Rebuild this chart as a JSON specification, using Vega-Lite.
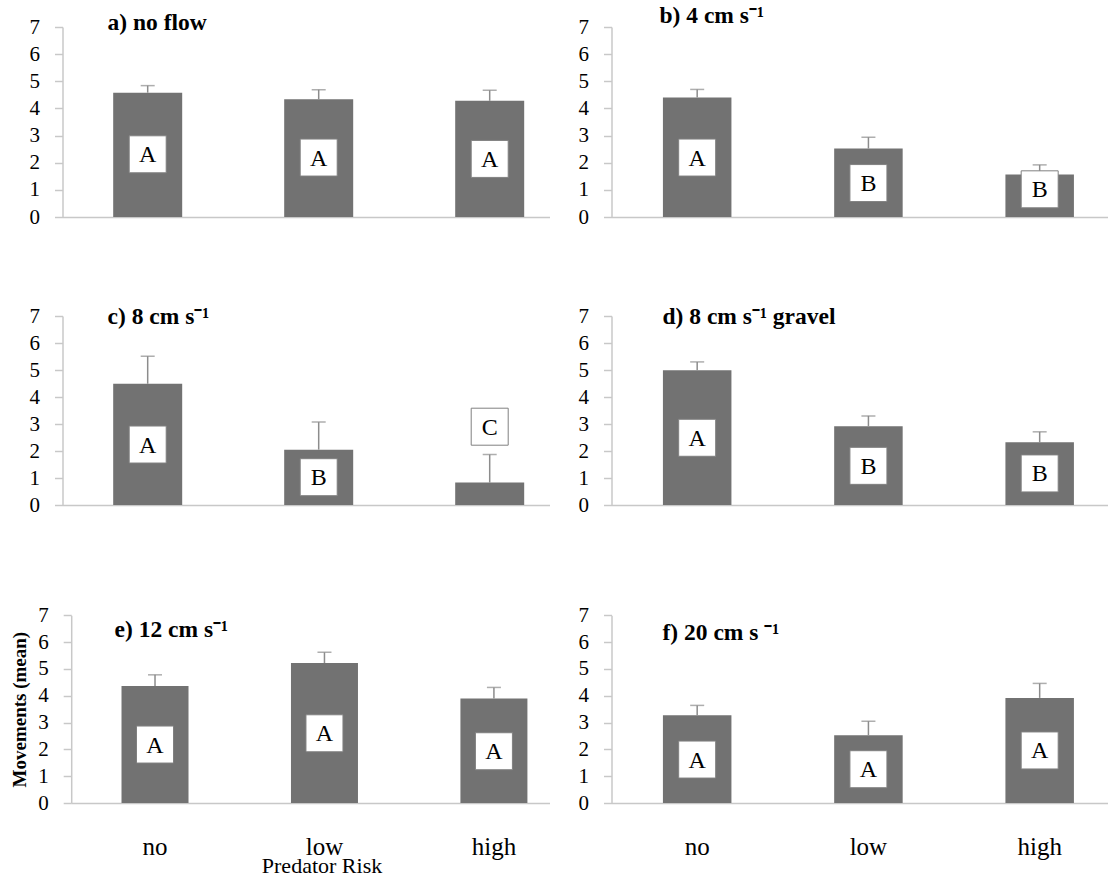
{
  "$schema": "https://vega.github.io/schema/vega-lite/v6.json",
  "background": "white",
  "padding": {"left": 10.5, "top": 4, "right": 0, "bottom": 0},
  "datasets": {
    "movements": [
      {"panel": "a", "risk": "no", "mean": 4.58, "upper": 4.84, "letter": "A", "letter_y": 2.31},
      {"panel": "a", "risk": "low", "mean": 4.34, "upper": 4.69, "letter": "A", "letter_y": 2.19},
      {"panel": "a", "risk": "high", "mean": 4.28, "upper": 4.67, "letter": "A", "letter_y": 2.14},
      {"panel": "b", "risk": "no", "mean": 4.40, "upper": 4.70, "letter": "A", "letter_y": 2.19},
      {"panel": "b", "risk": "low", "mean": 2.52, "upper": 2.94, "letter": "B", "letter_y": 1.25},
      {"panel": "b", "risk": "high", "mean": 1.57, "upper": 1.92, "letter": "B", "letter_y": 1.02},
      {"panel": "c", "risk": "no", "mean": 4.49, "upper": 5.51, "letter": "A", "letter_y": 2.24},
      {"panel": "c", "risk": "low", "mean": 2.05, "upper": 3.07, "letter": "B", "letter_y": 1.03},
      {"panel": "c", "risk": "high", "mean": 0.83, "upper": 1.87, "letter": "C", "letter_y": 2.90},
      {"panel": "d", "risk": "no", "mean": 4.99, "upper": 5.30, "letter": "A", "letter_y": 2.49},
      {"panel": "d", "risk": "low", "mean": 2.92, "upper": 3.30, "letter": "B", "letter_y": 1.45},
      {"panel": "d", "risk": "high", "mean": 2.32, "upper": 2.71, "letter": "B", "letter_y": 1.17},
      {"panel": "e", "risk": "no", "mean": 4.36, "upper": 4.78, "letter": "A", "letter_y": 2.18},
      {"panel": "e", "risk": "low", "mean": 5.22, "upper": 5.62, "letter": "A", "letter_y": 2.60},
      {"panel": "e", "risk": "high", "mean": 3.90, "upper": 4.31, "letter": "A", "letter_y": 1.93},
      {"panel": "f", "risk": "no", "mean": 3.27, "upper": 3.64, "letter": "A", "letter_y": 1.62},
      {"panel": "f", "risk": "low", "mean": 2.53, "upper": 3.05, "letter": "A", "letter_y": 1.26},
      {"panel": "f", "risk": "high", "mean": 3.92, "upper": 4.46, "letter": "A", "letter_y": 1.96}
    ]
  },
  "columns": 2,
  "bounds": "flush",
  "align": "each",
  "spacing": {"row": 99, "column": 62},
  "concat": [
    {
      "width": 487, "height": 190,
      "data": {"name": "movements"},
      "transform": [{"filter": "datum.panel == 'a'"}],
      "title": {"text": "a) no flow", "anchor": "start", "frame": "group", "offset": 0, "dx": 45, "dy": 30, "baseline": "middle", "font": "Liberation Serif", "fontSize": 23.5, "fontWeight": "bold", "color": "black"},
      "resolve": {"axis": {"y": "independent"}},
      "encoding": {
        "x": {"field": "risk", "type": "nominal", "scale": {"domain": ["no", "low", "high"], "paddingInner": 0.5965, "paddingOuter": 0.2222, "align": 0.667}, "axis": {"labels": false, "ticks": false, "title": null, "domainColor": "#c8c8c8", "domainWidth": 1.5}}
      },
      "layer": [
        {"mark": {"type": "bar", "color": "#727272"}, "encoding": {"y": {"field": "mean", "type": "quantitative", "scale": {"domain": [0, 7], "nice": false}, "axis": {"values": [0, 1, 2, 3, 4, 5, 6, 7], "labelFont": "Liberation Serif", "labelFontSize": 21, "title": null}}}},
        {"mark": {"type": "rule", "color": "#8c8c8c", "strokeWidth": 1.5}, "encoding": {"y": {"field": "mean", "type": "quantitative", "axis": null}, "y2": {"field": "upper"}}},
        {"mark": {"type": "tick", "color": "#8c8c8c", "thickness": 1.5, "size": 14}, "encoding": {"y": {"field": "upper", "type": "quantitative", "axis": null}}},
        {"mark": {"type": "point", "shape": "square", "size": 1369, "filled": true, "fill": "white", "stroke": "#808080", "strokeWidth": 1, "opacity": 1}, "encoding": {"y": {"field": "letter_y", "type": "quantitative", "axis": null}}},
        {"mark": {"type": "text", "font": "Liberation Serif", "fontSize": 24, "baseline": "middle", "dy": 1, "color": "black"}, "encoding": {"y": {"field": "letter_y", "type": "quantitative", "axis": null}, "text": {"field": "letter"}}}
      ]
    },
    {
      "width": 496, "height": 190,
      "data": {"name": "movements"},
      "transform": [{"filter": "datum.panel == 'b'"}],
      "title": {"text": "b) 4 cm s⁻¹", "anchor": "start", "frame": "group", "offset": 0, "dx": 48, "dy": 23.5, "baseline": "middle", "font": "Liberation Serif", "fontSize": 23.5, "fontWeight": "bold", "color": "black"},
      "resolve": {"axis": {"y": "independent"}},
      "encoding": {
        "x": {"field": "risk", "type": "nominal", "scale": {"domain": ["no", "low", "high"], "paddingInner": 0.6, "paddingOuter": 0.2482, "align": 0.605}, "axis": {"labels": false, "ticks": false, "title": null, "domainColor": "#c8c8c8", "domainWidth": 1.5}}
      },
      "layer": [
        {"mark": {"type": "bar", "color": "#727272"}, "encoding": {"y": {"field": "mean", "type": "quantitative", "scale": {"domain": [0, 7], "nice": false}, "axis": {"values": [0, 1, 2, 3, 4, 5, 6, 7], "labelFont": "Liberation Serif", "labelFontSize": 21, "title": null}}}},
        {"mark": {"type": "rule", "color": "#8c8c8c", "strokeWidth": 1.5}, "encoding": {"y": {"field": "mean", "type": "quantitative", "axis": null}, "y2": {"field": "upper"}}},
        {"mark": {"type": "tick", "color": "#8c8c8c", "thickness": 1.5, "size": 14}, "encoding": {"y": {"field": "upper", "type": "quantitative", "axis": null}}},
        {"mark": {"type": "point", "shape": "square", "size": 1369, "filled": true, "fill": "white", "stroke": "#808080", "strokeWidth": 1, "opacity": 1}, "encoding": {"y": {"field": "letter_y", "type": "quantitative", "axis": null}}},
        {"mark": {"type": "text", "font": "Liberation Serif", "fontSize": 24, "baseline": "middle", "dy": 1, "color": "black"}, "encoding": {"y": {"field": "letter_y", "type": "quantitative", "axis": null}, "text": {"field": "letter"}}}
      ]
    },
    {
      "width": 487, "height": 189,
      "data": {"name": "movements"},
      "transform": [{"filter": "datum.panel == 'c'"}],
      "title": {"text": "c) 8 cm s⁻¹", "anchor": "start", "frame": "group", "offset": 0, "dx": 45, "dy": 35, "baseline": "middle", "font": "Liberation Serif", "fontSize": 23.5, "fontWeight": "bold", "color": "black"},
      "resolve": {"axis": {"y": "independent"}},
      "encoding": {
        "x": {"field": "risk", "type": "nominal", "scale": {"domain": ["no", "low", "high"], "paddingInner": 0.5965, "paddingOuter": 0.2222, "align": 0.667}, "axis": {"labels": false, "ticks": false, "title": null, "domainColor": "#c8c8c8", "domainWidth": 1.5}}
      },
      "layer": [
        {"mark": {"type": "bar", "color": "#727272"}, "encoding": {"y": {"field": "mean", "type": "quantitative", "scale": {"domain": [0, 7], "nice": false}, "axis": {"values": [0, 1, 2, 3, 4, 5, 6, 7], "labelFont": "Liberation Serif", "labelFontSize": 21, "title": null}}}},
        {"mark": {"type": "rule", "color": "#8c8c8c", "strokeWidth": 1.5}, "encoding": {"y": {"field": "mean", "type": "quantitative", "axis": null}, "y2": {"field": "upper"}}},
        {"mark": {"type": "tick", "color": "#8c8c8c", "thickness": 1.5, "size": 14}, "encoding": {"y": {"field": "upper", "type": "quantitative", "axis": null}}},
        {"mark": {"type": "point", "shape": "square", "size": 1369, "filled": true, "fill": "white", "stroke": "#808080", "strokeWidth": 1, "opacity": 1}, "encoding": {"y": {"field": "letter_y", "type": "quantitative", "axis": null}}},
        {"mark": {"type": "text", "font": "Liberation Serif", "fontSize": 24, "baseline": "middle", "dy": 1, "color": "black"}, "encoding": {"y": {"field": "letter_y", "type": "quantitative", "axis": null}, "text": {"field": "letter"}}}
      ]
    },
    {
      "width": 496, "height": 189,
      "data": {"name": "movements"},
      "transform": [{"filter": "datum.panel == 'd'"}],
      "title": {"text": "d) 8 cm s⁻¹ gravel", "anchor": "start", "frame": "group", "offset": 0, "dx": 51, "dy": 35, "baseline": "middle", "font": "Liberation Serif", "fontSize": 23.5, "fontWeight": "bold", "color": "black"},
      "resolve": {"axis": {"y": "independent"}},
      "encoding": {
        "x": {"field": "risk", "type": "nominal", "scale": {"domain": ["no", "low", "high"], "paddingInner": 0.6, "paddingOuter": 0.2482, "align": 0.605}, "axis": {"labels": false, "ticks": false, "title": null, "domainColor": "#c8c8c8", "domainWidth": 1.5}}
      },
      "layer": [
        {"mark": {"type": "bar", "color": "#727272"}, "encoding": {"y": {"field": "mean", "type": "quantitative", "scale": {"domain": [0, 7], "nice": false}, "axis": {"values": [0, 1, 2, 3, 4, 5, 6, 7], "labelFont": "Liberation Serif", "labelFontSize": 21, "title": null}}}},
        {"mark": {"type": "rule", "color": "#8c8c8c", "strokeWidth": 1.5}, "encoding": {"y": {"field": "mean", "type": "quantitative", "axis": null}, "y2": {"field": "upper"}}},
        {"mark": {"type": "tick", "color": "#8c8c8c", "thickness": 1.5, "size": 14}, "encoding": {"y": {"field": "upper", "type": "quantitative", "axis": null}}},
        {"mark": {"type": "point", "shape": "square", "size": 1369, "filled": true, "fill": "white", "stroke": "#808080", "strokeWidth": 1, "opacity": 1}, "encoding": {"y": {"field": "letter_y", "type": "quantitative", "axis": null}}},
        {"mark": {"type": "text", "font": "Liberation Serif", "fontSize": 24, "baseline": "middle", "dy": 1, "color": "black"}, "encoding": {"y": {"field": "letter_y", "type": "quantitative", "axis": null}, "text": {"field": "letter"}}}
      ]
    },
    {
      "width": 487, "height": 199,
      "data": {"name": "movements"},
      "transform": [{"filter": "datum.panel == 'e'"}],
      "title": {"text": "e) 12 cm s⁻¹", "anchor": "start", "frame": "group", "offset": 0, "dx": 52, "dy": 49, "baseline": "middle", "font": "Liberation Serif", "fontSize": 23.5, "fontWeight": "bold", "color": "black"},
      "resolve": {"axis": {"y": "independent"}},
      "encoding": {
        "x": {"field": "risk", "type": "nominal", "scale": {"domain": ["no", "low", "high"], "range": [8.7, 487], "paddingInner": 0.6046, "paddingOuter": 0.2136, "align": 0.695}, "axis": {"ticks": false, "tickSize": 0, "labelAngle": 0, "labelFont": "Liberation Serif", "labelFontSize": 25, "labelColor": "black", "labelBaseline": "alphabetic", "labelPadding": 51, "title": "Predator Risk", "titleFont": "Liberation Serif", "titleFontSize": 22, "titleFontWeight": "normal", "titleColor": "black", "titleBaseline": "alphabetic", "titleX": 259, "titleY": 69, "domainColor": "#c8c8c8", "domainWidth": 1.5}}
      },
      "layer": [
        {"mark": {"type": "bar", "color": "#727272"}, "encoding": {"y": {"field": "mean", "type": "quantitative", "scale": {"domain": [0, 7], "nice": false, "range": [199, 11.3]}, "axis": {"values": [0, 1, 2, 3, 4, 5, 6, 7], "labelFont": "Liberation Serif", "labelFontSize": 21, "offset": -8.7, "title": "Movements (mean)", "titleFont": "Liberation Serif", "titleFontSize": 19, "titleFontWeight": "bold", "titleColor": "black", "titlePadding": 8}}}},
        {"mark": {"type": "rule", "color": "#8c8c8c", "strokeWidth": 1.5}, "encoding": {"y": {"field": "mean", "type": "quantitative", "axis": null}, "y2": {"field": "upper"}}},
        {"mark": {"type": "tick", "color": "#8c8c8c", "thickness": 1.5, "size": 14}, "encoding": {"y": {"field": "upper", "type": "quantitative", "axis": null}}},
        {"mark": {"type": "point", "shape": "square", "size": 1369, "filled": true, "fill": "white", "stroke": "#808080", "strokeWidth": 1, "opacity": 1}, "encoding": {"y": {"field": "letter_y", "type": "quantitative", "axis": null}}},
        {"mark": {"type": "text", "font": "Liberation Serif", "fontSize": 24, "baseline": "middle", "dy": 1, "color": "black"}, "encoding": {"y": {"field": "letter_y", "type": "quantitative", "axis": null}, "text": {"field": "letter"}}}
      ]
    },
    {
      "width": 496, "height": 199,
      "data": {"name": "movements"},
      "transform": [{"filter": "datum.panel == 'f'"}],
      "title": {"text": "f) 20 cm s ⁻¹", "anchor": "start", "frame": "group", "offset": 0, "dx": 51, "dy": 52, "baseline": "middle", "font": "Liberation Serif", "fontSize": 23.5, "fontWeight": "bold", "color": "black"},
      "resolve": {"axis": {"y": "independent"}},
      "encoding": {
        "x": {"field": "risk", "type": "nominal", "scale": {"domain": ["no", "low", "high"], "paddingInner": 0.6, "paddingOuter": 0.2482, "align": 0.605}, "axis": {"ticks": false, "tickSize": 0, "labelAngle": 0, "labelFont": "Liberation Serif", "labelFontSize": 25, "labelColor": "black", "labelBaseline": "alphabetic", "labelPadding": 51, "title": null, "domainColor": "#c8c8c8", "domainWidth": 1.5}}
      },
      "layer": [
        {"mark": {"type": "bar", "color": "#727272"}, "encoding": {"y": {"field": "mean", "type": "quantitative", "scale": {"domain": [0, 7], "nice": false, "range": [199, 11.3]}, "axis": {"values": [0, 1, 2, 3, 4, 5, 6, 7], "labelFont": "Liberation Serif", "labelFontSize": 21, "title": null}}}},
        {"mark": {"type": "rule", "color": "#8c8c8c", "strokeWidth": 1.5}, "encoding": {"y": {"field": "mean", "type": "quantitative", "axis": null}, "y2": {"field": "upper"}}},
        {"mark": {"type": "tick", "color": "#8c8c8c", "thickness": 1.5, "size": 14}, "encoding": {"y": {"field": "upper", "type": "quantitative", "axis": null}}},
        {"mark": {"type": "point", "shape": "square", "size": 1369, "filled": true, "fill": "white", "stroke": "#808080", "strokeWidth": 1, "opacity": 1}, "encoding": {"y": {"field": "letter_y", "type": "quantitative", "axis": null}}},
        {"mark": {"type": "text", "font": "Liberation Serif", "fontSize": 24, "baseline": "middle", "dy": 1, "color": "black"}, "encoding": {"y": {"field": "letter_y", "type": "quantitative", "axis": null}, "text": {"field": "letter"}}}
      ]
    }
  ],
  "config": {
    "view": {"stroke": null},
    "axisY": {"labelOverlap": false, "grid": false, "domainColor": "#c8c8c8", "domainWidth": 1.5, "ticks": true, "tickColor": "#c8c8c8", "tickWidth": 1.5, "tickSize": 8, "labelFont": "Liberation Serif", "labelFontSize": 21, "labelColor": "black", "labelPadding": 15}
  }
}
